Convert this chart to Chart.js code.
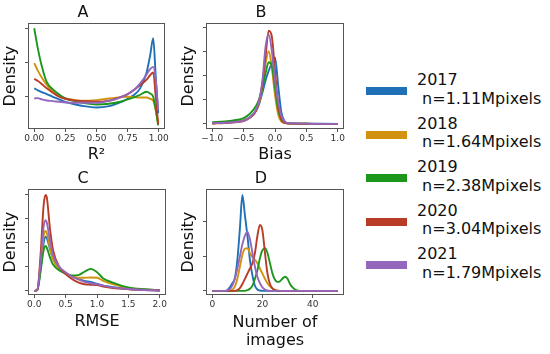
<!DOCTYPE html>
<html>
<head>
<meta charset="utf-8">
<script src="https://cdn.jsdelivr.net/npm/chart.js"></script>
<style>
	body{ margin:0; background:#fff; width:550px; height:354px; position:relative; overflow:hidden; font-family:"DejaVu Sans"; }
	canvas{ position:absolute; }
	.key{ position:absolute; left:366px; width:41px; height:8px; }
	.lab{ position:absolute; left:417px; font-size:16px; line-height:18.7px; white-space:pre; color:#111; }
</style>
</head>
<body>
<canvas id="chA" width="170" height="163" style="left:0px;top:0px"></canvas>
<canvas id="chB" width="170" height="163" style="left:178px;top:0px"></canvas>
<canvas id="chC" width="170" height="164" style="left:0px;top:166px"></canvas>
<canvas id="chD" width="170" height="183" style="left:178px;top:166px"></canvas>
<div id="legend"></div>
<script>
const years = ['2017', '2018', '2019', '2020', '2021']
const pixels = ['1.11', '1.64', '2.38', '3.04', '1.79']
const colors = ['#1f70b6', '#d0920f', '#1c971c', '#b83c26', '#9467bd']

// A : R²
const r2X = [0, 0.03, 0.06, 0.1, 0.15, 0.2, 0.25, 0.3, 0.4, 0.5, 0.6, 0.7, 0.75, 0.8, 0.85, 0.9, 0.93, 0.955, 0.975, 0.995]
const r2Dens = [
	[1.23, 1.17, 1.12, 1.06, 0.98, 0.90, 0.83, 0.78, 0.70, 0.66, 0.70, 0.83, 0.92, 1.03, 1.23, 1.68, 2.20, 2.72, 1.60, 0.49],
	[1.98, 1.75, 1.55, 1.33, 1.13, 1.00, 0.93, 0.90, 0.86, 0.88, 0.93, 0.97, 0.98, 0.97, 0.96, 0.96, 0.92, 0.86, 0.60, 0.18],
	[3.02, 2.40, 1.90, 1.42, 1.20, 1.05, 0.93, 0.87, 0.79, 0.75, 0.77, 0.84, 0.90, 0.96, 1.04, 1.13, 1.08, 0.98, 0.60, 0.13],
	[1.51, 1.45, 1.36, 1.23, 1.10, 0.98, 0.92, 0.88, 0.85, 0.83, 0.86, 0.98, 1.06, 1.18, 1.33, 1.48, 1.62, 1.70, 1.00, 0.16],
	[0.93, 0.94, 0.90, 0.87, 0.85, 0.83, 0.81, 0.80, 0.80, 0.80, 0.86, 0.97, 1.06, 1.18, 1.38, 1.63, 1.80, 1.87, 1.50, 0.58]
]
const r2Ticks = [0, 0.25, 0.5, 0.75, 1]
const r2TickLabels = ['0.00', '0.25', '0.50', '0.75', '1.00']

// B : Bias
const biasX = [-1, -0.8, -0.6, -0.5, -0.4, -0.3, -0.25, -0.2, -0.15, -0.1, -0.05, 0, 0.05, 0.1, 0.15, 0.2, 0.3, 0.5, 0.75, 1]
const biasDens = [
	[0.03, 0.06, 0.10, 0.15, 0.28, 0.55, 0.85, 1.30, 1.80, 2.20, 2.50, 2.75, 1.60, 0.50, 0.12, 0.04, 0.02, 0.01, 0.005, 0],
	[0.03, 0.06, 0.10, 0.14, 0.26, 0.55, 0.90, 1.50, 2.50, 3.00, 2.30, 1.20, 0.40, 0.10, 0.04, 0.02, 0.01, 0.005, 0, 0],
	[0.07, 0.10, 0.17, 0.24, 0.42, 0.75, 1.05, 1.50, 2.10, 2.55, 2.40, 1.50, 0.60, 0.18, 0.06, 0.03, 0.01, 0.005, 0, 0],
	[0.02, 0.04, 0.08, 0.12, 0.25, 0.55, 0.95, 1.70, 2.80, 3.85, 3.60, 2.20, 0.80, 0.20, 0.05, 0.02, 0.01, 0.005, 0, 0],
	[0.03, 0.05, 0.09, 0.13, 0.27, 0.60, 1.00, 1.80, 3.20, 3.70, 3.00, 1.80, 0.90, 0.35, 0.10, 0.04, 0.02, 0.01, 0, 0]
]
const biasTicks = [-1, -0.5, 0, 0.5, 1]
const biasTickLabels = ['\u22121.0', '\u22120.5', '0.0', '0.5', '1.0']

// C : RMSE
const rmseX = [0, 0.05, 0.1, 0.15, 0.18, 0.2, 0.25, 0.3, 0.4, 0.5, 0.6, 0.7, 0.8, 0.9, 1.0, 1.1, 1.25, 1.5, 1.75, 2.0]
const rmseDens = [
	[0, 0.05, 0.9, 2.0, 2.26, 2.2, 1.75, 1.35, 0.95, 0.75, 0.60, 0.50, 0.42, 0.38, 0.30, 0.22, 0.16, 0.08, 0.05, 0.02],
	[0, 0.05, 1.0, 2.3, 2.50, 2.4, 1.80, 1.30, 0.90, 0.72, 0.60, 0.55, 0.55, 0.56, 0.55, 0.42, 0.28, 0.12, 0.06, 0.03],
	[0, 0.04, 0.8, 1.7, 1.87, 1.8, 1.40, 1.10, 0.85, 0.72, 0.65, 0.66, 0.80, 0.92, 0.78, 0.52, 0.35, 0.15, 0.07, 0.03],
	[0, 0.06, 1.5, 3.6, 4.00, 3.9, 2.60, 1.70, 1.00, 0.70, 0.50, 0.36, 0.28, 0.26, 0.24, 0.18, 0.12, 0.07, 0.04, 0.02],
	[0, 0.05, 1.2, 2.7, 2.95, 2.85, 2.10, 1.50, 1.00, 0.78, 0.60, 0.48, 0.38, 0.32, 0.28, 0.22, 0.15, 0.08, 0.04, 0.02]
]
const rmseTicks = [0, 0.5, 1, 1.5, 2]
const rmseTickLabels = ['0.0', '0.5', '1.0', '1.5', '2.0']

// D : number of images
const imgX = [0, 5, 6, 7, 8, 9, 10, 11, 12, 13, 14, 15, 16, 17, 18, 19, 20, 21, 22, 23, 24, 25, 26, 27, 28, 29, 30, 31, 32, 33, 35, 40, 50]
const imgDens = [
	[0, 0, 0.02, 0.10, 0.22, 0.37, 0.90, 1.80, 2.78, 2.20, 1.60, 0.90, 0.45, 0.15, 0.04, 0.01, 0, 0, 0, 0, 0, 0, 0, 0, 0, 0, 0, 0, 0, 0, 0, 0, 0],
	[0, 0, 0, 0, 0.03, 0.12, 0.35, 0.70, 1.05, 1.22, 1.24, 1.10, 0.98, 0.90, 0.80, 0.65, 0.50, 0.35, 0.22, 0.13, 0.07, 0.03, 0.01, 0, 0, 0, 0, 0, 0, 0, 0, 0, 0],
	[0, 0, 0, 0, 0, 0, 0, 0, 0, 0, 0.02, 0.06, 0.15, 0.35, 0.60, 0.95, 1.18, 1.24, 1.10, 0.80, 0.50, 0.32, 0.26, 0.28, 0.36, 0.41, 0.35, 0.20, 0.10, 0.04, 0, 0, 0],
	[0, 0, 0, 0, 0, 0, 0.02, 0.08, 0.20, 0.35, 0.50, 0.65, 0.80, 1.10, 1.60, 1.91, 1.75, 1.10, 0.50, 0.20, 0.07, 0.02, 0, 0, 0, 0, 0, 0, 0, 0, 0, 0, 0],
	[0, 0, 0.01, 0.05, 0.15, 0.35, 0.65, 1.00, 1.35, 1.60, 1.72, 1.50, 1.10, 0.70, 0.40, 0.22, 0.10, 0.04, 0.01, 0, 0, 0, 0, 0, 0, 0, 0, 0, 0, 0, 0, 0, 0]
]
const imgTicks = [0, 20, 40]
const imgTickLabels = ['0', '20', '40']

Chart.defaults.font.family = 'DejaVu Sans'
Chart.defaults.color = '#222'

const frame = {
	id: 'frame',
	afterDraw(chart){
		const a = chart.chartArea, c = chart.ctx
		c.save()
		c.strokeStyle = '#555'
		c.lineWidth = 1
		c.strokeRect(Math.round(a.left) + 0.5, Math.round(a.top) + 0.5, Math.round(a.width) - 1, Math.round(a.height) - 1)
		c.restore()
	}
}

function makePanel(id, title, xs, dens, xRange, xTicks, xLabels, xTitle, xHeight, yRange, yTicks){
	const datasets = []
	for(let i = 0; i < years.length; i++){
		datasets.push({
			label: years[i],
			data: xs.map((x, j) => ({x: x, y: dens[i][j]})),
			borderColor: colors[i],
			borderWidth: 1.9,
			pointRadius: 0,
			fill: false,
			cubicInterpolationMode: 'monotone',
			order: years.length - i
		})
	}
	return new Chart(document.getElementById(id), {
		type: 'line',
		data: { datasets: datasets },
		options: {
			responsive: false,
			animation: false,
			devicePixelRatio: 1,
			layout: { padding: { left: 0, right: 4, top: 0, bottom: 0 } },
			plugins: {
				legend: { display: false },
				tooltip: { enabled: false },
				title: { display: true, text: title, font: { size: 16, weight: 'normal' }, color: '#111', padding: { top: 3, bottom: 1 } }
			},
			scales: {
				x: {
					type: 'linear',
					min: xRange[0], max: xRange[1],
					afterBuildTicks: s => { s.ticks = xTicks.map(v => ({value: v})) },
					afterFit: s => { s.height = xHeight },
					ticks: { font: { size: 9 }, color: '#333', padding: 1, maxRotation: 0, autoSkip: false,
						callback: (v, i) => xLabels[i] },
					grid: { drawOnChartArea: false, drawTicks: true, tickLength: 3, color: '#555' },
					border: { display: false },
					title: { display: true, text: xTitle, font: { size: 16, lineHeight: 1.07 }, color: '#111', padding: { top: 0, bottom: 0 } }
				},
				y: {
					min: yRange[0], max: yRange[1],
					afterBuildTicks: s => { s.ticks = yTicks.map(v => ({value: v})) },
					afterFit: s => { s.width = 28 },
					ticks: { display: false },
					grid: { drawOnChartArea: false, drawTicks: true, tickLength: 3, color: '#555' },
					border: { display: false },
					title: { display: true, text: 'Density', font: { size: 16 }, color: '#111', padding: { top: 1, bottom: 0 } }
				}
			}
		},
		plugins: [frame]
	})
}

makePanel('chA', 'A', r2X, r2Dens, [-0.05, 1.05], r2Ticks, r2TickLabels, 'R\u00b2', 34, [0.02, 3.17], [1, 2, 3])
makePanel('chB', 'B', biasX, biasDens, [-1.1, 1.1], biasTicks, biasTickLabels, 'Bias', 34, [-0.21, 4.16], [0, 1, 2, 3, 4])
makePanel('chC', 'C', rmseX, rmseDens, [-0.1, 2.1], rmseTicks, rmseTickLabels, 'RMSE', 35, [-0.17, 4.24], [0, 1, 2, 3, 4])
makePanel('chD', 'D', imgX, imgDens, [-2.5, 52.5], imgTicks, imgTickLabels, ['Number of', 'images'], 54, [-0.12, 2.95], [0, 1, 2])

// legend on the right
const legend = document.getElementById('legend')
for(let i = 0; i < years.length; i++){
	const cy = 91.3 + i * 43.4
	const key = document.createElement('div')
	key.className = 'key'
	key.style.top = (cy - 4) + 'px'
	key.style.background = colors[i]
	legend.appendChild(key)
	const lab = document.createElement('div')
	lab.className = 'lab'
	lab.style.top = (cy - 20) + 'px'
	lab.textContent = years[i] + '\n n=' + pixels[i] + 'Mpixels'
	legend.appendChild(lab)
}
</script>
</body>
</html>
